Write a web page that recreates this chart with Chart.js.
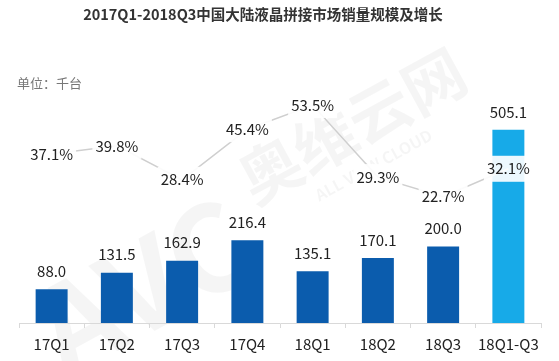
<!DOCTYPE html>
<html>
<head>
<meta charset="utf-8">
<script src="https://cdn.jsdelivr.net/npm/chart.js@4"></script>
<style>
  html, body { margin: 0; padding: 0; background: #fff; }
  #wrap { width: 559px; height: 361px; position: relative; }
</style>
</head>
<body>
<div id="wrap"><canvas id="chart"></canvas></div>
<script>
const categories = ['17Q1', '17Q2', '17Q3', '17Q4', '18Q1', '18Q2', '18Q3', '18Q1-Q3'];
const salesValues = [88.0, 131.5, 162.9, 216.4, 135.1, 170.1, 200.0, 505.1];
const growthValues = [37.1, 39.8, 28.4, 45.4, 53.5, 29.3, 22.7, 32.1];
const barColors = ['#0b5cad', '#0b5cad', '#0b5cad', '#0b5cad', '#0b5cad', '#0b5cad', '#0b5cad', '#17aae8'];

const FONT = '"Noto Sans CJK SC", "Noto Sans", sans-serif';

// 标题、单位、水印和数据标签
const decorPlugin = {
    id: 'decor',
    beforeDraw(chart) {
        const ctx = chart.ctx;
        ctx.save();
        ctx.translate(230, 215);
        ctx.rotate(-0.5);
        ctx.fillStyle = 'rgba(0,0,0,0.04)';
        ctx.font = 'bold 120px ' + FONT;
        ctx.textAlign = 'center';
        ctx.textBaseline = 'middle';
        ctx.fillText('AVC', -110, 20);
        ctx.font = 'bold 62px ' + FONT;
        ctx.fillText('奥维云网', 150, -20);
        ctx.font = 'bold 16px ' + FONT;
        ctx.fillText('ALL VIEW CLOUD', 150, 25);
        ctx.restore();
    },
    afterDatasetsDraw(chart) {
        const ctx = chart.ctx;
        ctx.save();
        ctx.textAlign = 'center';
        ctx.textBaseline = 'middle';

        ctx.fillStyle = '#333';
        ctx.font = 'bold 14.5px ' + FONT;
        ctx.fillText('2017Q1-2018Q3中国大陆液晶拼接市场销量规模及增长', 263, 14);

        ctx.textAlign = 'left';
        ctx.fillStyle = '#777';
        ctx.font = '13px ' + FONT;
        ctx.fillText('单位：千台', 17, 83);

        ctx.textAlign = 'center';
        ctx.font = '15px ' + FONT;
        const bars = chart.getDatasetMeta(0).data;
        bars.forEach((bar, i) => {
            ctx.fillStyle = '#222';
            ctx.fillText(salesValues[i].toFixed(1), bar.x, bar.y - 18);
        });

        const pts = chart.getDatasetMeta(1).data;
        pts.forEach((pt, i) => {
            const txt = growthValues[i].toFixed(1) + '%';
            const w = ctx.measureText(txt).width + 6;
            ctx.fillStyle = 'rgba(255,255,255,0.92)';
            ctx.fillRect(pt.x - w / 2, pt.y - 13, w, 26);
            ctx.fillStyle = '#222';
            ctx.fillText(txt, pt.x, pt.y);
        });
        ctx.restore();
    }
};

new Chart(document.getElementById('chart'), {
    data: {
        labels: categories,
        datasets: [
            {
                type: 'bar',
                data: salesValues,
                backgroundColor: barColors,
                barPercentage: 0.49,
                categoryPercentage: 1,
                yAxisID: 'y',
                order: 1
            },
            {
                type: 'line',
                data: growthValues,
                borderColor: '#cfcfcf',
                borderWidth: 1.5,
                pointRadius: 0,
                tension: 0,
                yAxisID: 'y1',
                order: 0
            }
        ]
    },
    options: {
        responsive: true,
        maintainAspectRatio: false,
        animation: false,
        layout: { padding: { left: 19, right: 18, top: 100, bottom: 1 } },
        plugins: {
            legend: { display: false },
            tooltip: { enabled: false }
        },
        scales: {
            x: {
                grid: {
                    display: true,
                    drawOnChartArea: false,
                    drawTicks: true,
                    tickLength: 5,
                    color: '#d9d9d9'
                },
                border: { display: true, color: '#d9d9d9' },
                ticks: {
                    color: '#222',
                    padding: 7,
                    autoSkip: false,
                    maxRotation: 0,
                    minRotation: 0,
                    font: { family: FONT, size: 15 }
                }
            },
            y: { display: false, min: 0, max: 583 },
            y1: { display: false, min: -19.7, max: 55.2 }
        }
    },
    plugins: [decorPlugin]
});
</script>
</body>
</html>
